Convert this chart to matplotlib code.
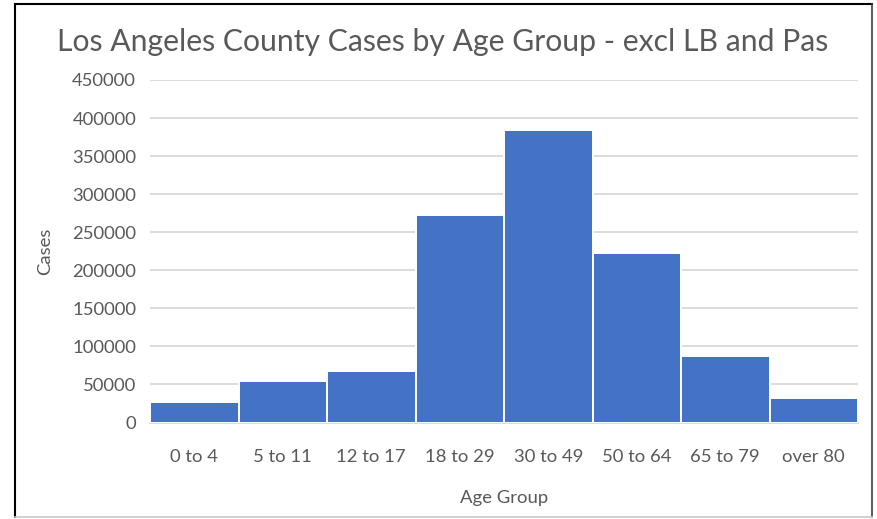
import matplotlib
matplotlib.use("Agg")
import matplotlib.pyplot as plt
from matplotlib.lines import Line2D

# Cases by age group, Los Angeles County (excluding Long Beach and Pasadena)
age_groups = ["0 to 4", "5 to 11", "12 to 17", "18 to 29", "30 to 49",
              "50 to 64", "65 to 79", "over 80"]
cases = [27300, 54000, 68000, 272300, 384000, 222800, 87700, 31800]
y_ticks = [0, 50000, 100000, 150000, 200000, 250000, 300000, 350000, 400000, 450000]

TEXT = "#595959"
BAR = "#4472C4"
GRID = "#D9D9D9"
FONT = "Lato"

plt.rcParams["font.family"] = [FONT, "DejaVu Sans"]

fig = plt.figure(figsize=(8.77, 5.19), dpi=100)
ax = fig.add_axes([150 / 877, 1 - 422.5 / 519, (858 - 150) / 877, (422.5 - 80) / 519])

x = list(range(len(age_groups)))
ax.bar(x, cases, width=1.0, color=BAR, edgecolor="white", linewidth=1.4, zorder=3)

ax.set_xlim(-0.5, len(age_groups) - 0.5)
ax.set_ylim(0, 450000)
ax.set_yticks(y_ticks)
ax.set_yticklabels([str(v) for v in y_ticks])
ax.set_xticks(x)
ax.set_xticklabels(age_groups)

ax.yaxis.grid(True, color=GRID, linewidth=1.3, zorder=0)
ax.set_axisbelow(True)
for side in ("top", "right", "left"):
    ax.spines[side].set_visible(False)
ax.spines["bottom"].set_color(GRID)
ax.spines["bottom"].set_linewidth(1.3)

ax.tick_params(axis="y", length=0, pad=10, labelsize=13.3, labelcolor=TEXT)
ax.tick_params(axis="x", length=0, pad=19, labelsize=13.3, labelcolor=TEXT)

ax.set_xlabel("Age Group", fontsize=13.3, color=TEXT, labelpad=18)
ax.set_ylabel("Cases", fontsize=13.3, color=TEXT, labelpad=14)

fig.text(443 / 877, 1 - 42 / 519, "Los Angeles County Cases by Age Group - excl LB and Pas",
         ha="center", va="center", fontsize=21.7, color=TEXT)

# chart frame
fig.add_artist(Line2D([15 / 877, 15 / 877], [1 - 4 / 519, 1 - 517 / 519],
                      transform=fig.transFigure, color="black", linewidth=1.5))
fig.add_artist(Line2D([15 / 877, 872 / 877], [1 - 4 / 519, 1 - 4 / 519],
                      transform=fig.transFigure, color="black", linewidth=1.5))
fig.add_artist(Line2D([872 / 877, 872 / 877], [1 - 4 / 519, 1 - 517 / 519],
                      transform=fig.transFigure, color="#404040", linewidth=1.2))
fig.add_artist(Line2D([15 / 877, 872 / 877], [1 - 517 / 519, 1 - 517 / 519],
                      transform=fig.transFigure, color="#C8C8C8", linewidth=1.2))

fig.savefig("out.png", dpi=100, facecolor="white")
